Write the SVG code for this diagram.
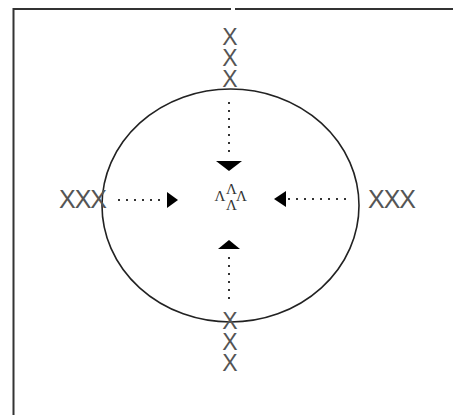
<svg xmlns="http://www.w3.org/2000/svg" width="453" height="415" viewBox="0 0 453 415">
<defs>
<style>
.frame{stroke:#333;stroke-width:2;fill:none}
.ell{stroke:#222;stroke-width:1.6;fill:none}
.dot{stroke:#333;stroke-width:2;stroke-dasharray:2 6;fill:none}
.head{fill:#000}
.xv{font-family:"Liberation Sans",Arial,sans-serif;fill:#555;font-size:23px;writing-mode:vertical-rl;text-orientation:upright;letter-spacing:-5px}
.xh{font-family:"Liberation Sans",Arial,sans-serif;fill:#555;font-size:25px;letter-spacing:-1px}
.c{font-family:"Liberation Serif","Times New Roman",serif;fill:#333;font-size:15px;text-anchor:middle}
</style>
</defs>
<rect width="453" height="415" fill="#fff"/>
<g id="frame">
<path class="frame" d="M13.5 415 V9 H231 M235 9 H453"/>
</g>
<g id="cell">
<ellipse class="ell" cx="230.5" cy="205.5" rx="128.5" ry="116.5"/>
</g>
<g id="top">
<text class="xv" x="230" y="24">XXX</text>
</g>
<g id="bottom">
<text class="xv" x="230" y="308">XXX</text>
</g>
<g id="left">
<text class="xh" x="59" y="208">XXX</text>
</g>
<g id="right">
<text class="xh" x="368" y="208">XXX</text>
</g>
<g id="center">
<text class="c"><tspan x="231.5" y="194">Λ</tspan><tspan x="220" y="201">Λ</tspan><tspan x="241.5" y="201">Λ</tspan><tspan x="231.5" y="210">Λ</tspan></text>
</g>
<g id="connectors">
<path class="dot" d="M229 102 V158"/>
<polygon class="head" points="216,161 242,161 229,171"/>
<path class="dot" d="M229 299 V251"/>
<polygon class="head" points="218,249 240,249 229,240"/>
<path class="dot" d="M118 200 H164"/>
<polygon class="head" points="167,192 167,208 178,200"/>
<path class="dot" d="M346 199 H288"/>
<polygon class="head" points="286,191 286,207 274,199"/>
</g>
</svg>
